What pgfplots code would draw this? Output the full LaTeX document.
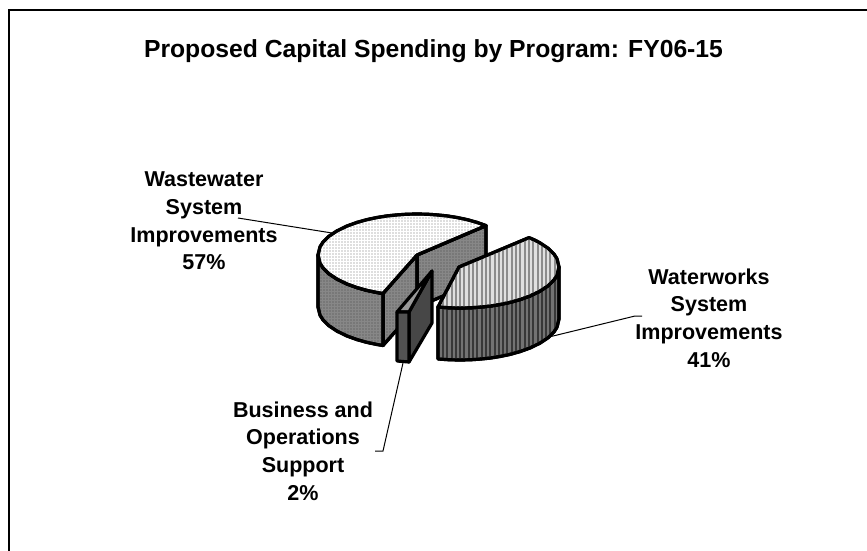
\documentclass[border=0pt]{standalone}
\usepackage{fontspec}
\setmainfont{Liberation Sans}
\usepackage{pgfplots}
\pgfplotsset{compat=1.18}
\usetikzlibrary{patterns.meta}
\tikzset{
  face/.style={draw=black,line width=3.2bp,line join=round},
  leader/.style={draw=black,line width=1bp},
  lab/.style={font=\fontsize{21.6}{27.7}\selectfont\bfseries,align=center,inner sep=0pt,anchor=center},
  dotted top/.style={fill=white,postaction={pattern={Dots[distance=3bp,radius=0.55bp]},pattern color=black!55}},
  dotted side/.style={fill=black!47,postaction={pattern={Dots[distance=3bp,radius=0.6bp]},pattern color=black!72}},
  striped top/.style={fill=black!12,postaction={pattern={Lines[angle=90,distance=4.3bp,line width=2bp]},pattern color=black!45}},
  striped side/.style={fill=black!55,postaction={pattern={Lines[angle=90,distance=4.3bp,line width=2bp]},pattern color=black!78}},
}
\begin{document}
\begin{tikzpicture}
\begin{axis}[
  name=ax,
  scale only axis,width=867bp,height=551bp,
  xmin=0,xmax=867,ymin=0,ymax=551,y dir=reverse,
  axis lines=none,clip=true]
% chart frame: left and top edges only
\addplot[draw=black,line width=2bp] coordinates {(9,551)(9,10)(867,10)};

% leader lines
\addplot[leader] coordinates {(238,218)(332,233)};
\addplot[leader] coordinates {(549,337)(635,316)(642,316)};
\addplot[leader] coordinates {(403,363)(383,451)(375,451)};

% wastewater slice: cut faces, outer wall, top
\addplot[face,dotted side] coordinates {(417,255)(486,225.6)(486,278)(417,307)} -- cycle;
\addplot[face,dotted side] coordinates {(383,293.5)(417,255)(417,307)(383,345.5)} -- cycle;
\addplot[face,dotted side] coordinates {(318,255)(320,263.2)(323,267.9)(329,273.8)(337,279.1)(347,284)(357,287.6)(367,290.4)(377,292.5)(383,293.5)
  (383,345.5)(377,344.5)(367,342.4)(357,339.6)(347,336)(337,331.1)(329,325.8)(323,319.9)(320,315.2)(318,307)} -- cycle;
\addplot[face,dotted top] coordinates {(486,225.6)(477,222.4)(467,219.6)(457,217.5)(447,215.9)(437,214.9)(427,214.2)(417,214)(407,214.2)(397,214.9)(387,215.9)(377,217.5)(367,219.6)(357,222.4)(347,226)(337,230.9)(329,236.2)(323,242.1)(320,246.8)(318,255)
  (320,263.2)(323,267.9)(329,273.8)(337,279.1)(347,284)(357,287.6)(367,290.4)(377,292.5)(383,293.5)(417,255)} -- cycle;

% waterworks slice: outer wall, top
\addplot[face,striped side] coordinates {(559,267)(557,275.2)(554,279.9)(548,285.8)(540,291.1)(530,296)(520,299.6)(510,302.4)(500,304.5)(490,306.1)(480,307.1)(470,307.8)(460,308)(450,307.8)(438,307)
  (438,359)(450,359.8)(460,360)(470,359.8)(480,359.1)(490,358.1)(500,356.5)(510,354.4)(520,351.6)(530,348)(540,343.1)(548,337.8)(554,331.9)(557,327.2)(559,319)} -- cycle;
\addplot[face,striped top] coordinates {(529,237.6)(535,240.2)(540,242.9)(548,248.2)(554,254.1)(557,258.8)(559,267)(557,275.2)(554,279.9)(548,285.8)(540,291.1)(530,296)(520,299.6)(510,302.4)(500,304.5)(490,306.1)(480,307.1)(470,307.8)(460,308)(450,307.8)(438,307)(459,267)} -- cycle;

% business and operations slice
\addplot[face,fill=black!72] coordinates {(409,312)(432,271)(432,323)(409,362)} -- cycle;
\addplot[face,fill=black!40] coordinates {(397,312)(409,312)(432,271)} -- cycle;
\addplot[face,fill=black!68] coordinates {(397,312)(409,312)(409,362)(397,361)} -- cycle;

\node[font=\fontsize{24.8}{28}\selectfont\bfseries,inner sep=0pt] at (axis cs:433.5,51) {Proposed Capital Spending by Program: FY06-15};
\node[lab] at (axis cs:204,221) {Wastewater\\System\\Improvements\\57\%};
\node[lab] at (axis cs:709,318) {Waterworks\\System\\Improvements\\41\%};
\node[lab] at (axis cs:303,451) {Business and\\Operations\\Support\\2\%};
\end{axis}
\pgfresetboundingbox
\path[use as bounding box] (ax.south west) rectangle (ax.north east);
\end{tikzpicture}
\end{document}
